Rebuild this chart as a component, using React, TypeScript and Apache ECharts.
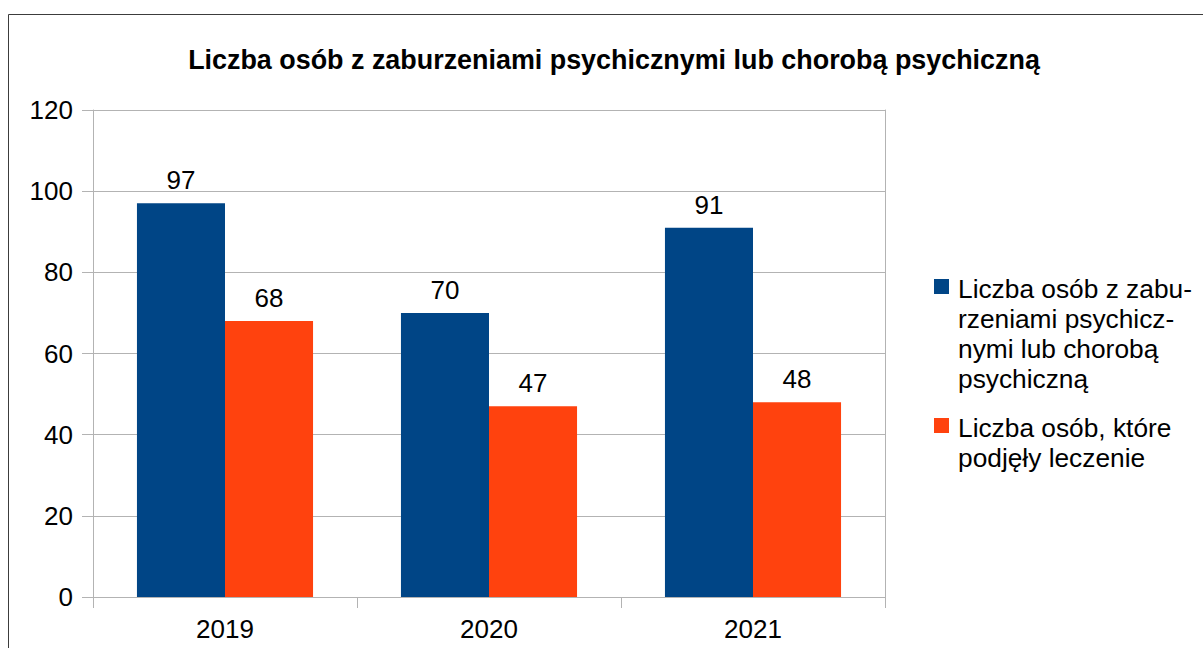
import React, { useEffect, useRef } from "react";
import * as echarts from "echarts";

const titleText = "Liczba osób z zaburzeniami psychicznymi lub chorobą psychiczną";
const categories = ["2019", "2020", "2021"];
const seriesNames = [
  "Liczba osób z zaburzeniami psychicznymi lub chorobą psychiczną",
  "Liczba osób, które podjęły leczenie",
];
const legendLines = [
  "Liczba osób z zabu-\nrzeniami psychicz-\nnymi lub chorobą\npsychiczną",
  "Liczba osób, które\npodjęły leczenie",
];
const seriesColors = ["#004586", "#ff420e"];
const disorderValues = [97, 70, 91];
const treatedValues = [68, 47, 48];
const yTicks = { min: 0, max: 120, interval: 20 };

const FONT = "'Liberation Sans', Arial, sans-serif";

export default function App() {
  const ref = useRef<HTMLDivElement>(null);
  useEffect(() => {
    if (!ref.current) return;
    const chart = echarts.init(ref.current, null, { renderer: "svg" });
    const values = [disorderValues, treatedValues];
    const legendTops = [274, 413];
    const legendGraphics: any[] = [];
    seriesNames.forEach((_, i) => {
      legendGraphics.push({
        type: "rect",
        shape: { x: 934, y: legendTops[i] + 5, width: 15, height: 15 },
        style: { fill: seriesColors[i] },
      });
      legendGraphics.push({
        type: "text",
        x: 958,
        y: legendTops[i],
        style: {
          text: legendLines[i],
          font: `26.3px ${FONT}`,
          fill: "#000",
          lineHeight: 30,
          verticalAlign: "top",
          align: "left",
        },
      });
    });
    chart.setOption({
      animation: false,
      backgroundColor: "#fff",
      textStyle: { fontFamily: FONT },
      title: {
        text: titleText,
        left: 609,
        top: 41,
        textAlign: "center",
        textStyle: { fontSize: 26.9, fontWeight: "bold", color: "#000", fontFamily: FONT },
      },
      grid: { left: 93, right: 318, top: 110, bottom: 51, containLabel: false },
      xAxis: {
        type: "category",
        data: categories,
        axisLine: { show: true, lineStyle: { color: "#b3b3b3", width: 1 } },
        axisTick: { show: true, length: 11, lineStyle: { color: "#b3b3b3" } },
        axisLabel: { fontSize: 26, color: "#000", margin: 19, fontFamily: FONT },
        splitLine: { show: false },
      },
      yAxis: [
        {
          type: "value",
          min: yTicks.min,
          max: yTicks.max,
          interval: yTicks.interval,
          axisLine: { show: true, lineStyle: { color: "#b3b3b3", width: 1 } },
          axisTick: { show: true, length: 11, lineStyle: { color: "#b3b3b3" } },
          axisLabel: { fontSize: 26, color: "#000", margin: 20, fontFamily: FONT },
          splitLine: { show: true, lineStyle: { color: "#b3b3b3", width: 1 } },
        },
        {
          type: "value",
          position: "right",
          min: yTicks.min,
          max: yTicks.max,
          interval: yTicks.interval,
          axisLine: { show: true, lineStyle: { color: "#b3b3b3", width: 1 } },
          axisTick: { show: false },
          axisLabel: { show: false },
          splitLine: { show: false },
        },
      ],
      series: seriesNames.map((name, i) => ({
        type: "bar",
        name,
        data: values[i],
        yAxisIndex: 0,
        barGap: "0%",
        barCategoryGap: "33.3%",
        itemStyle: { color: seriesColors[i] },
        label: {
          show: true,
          position: "top",
          distance: 10,
          fontSize: 26,
          color: "#000",
          fontFamily: FONT,
        },
      })),
      graphic: [
        {
          type: "rect",
          shape: { x: 8.5, y: 14.5, width: 1400, height: 800 },
          style: { fill: "none", stroke: "#3c3c3c", lineWidth: 1 },
          silent: true,
        },
        ...legendGraphics,
      ],
    });
    return () => chart.dispose();
  }, []);
  return (
    <div
      ref={ref}
      style={{ position: "fixed", left: 0, top: 0, width: 1203, height: 648 }}
    />
  );
}
